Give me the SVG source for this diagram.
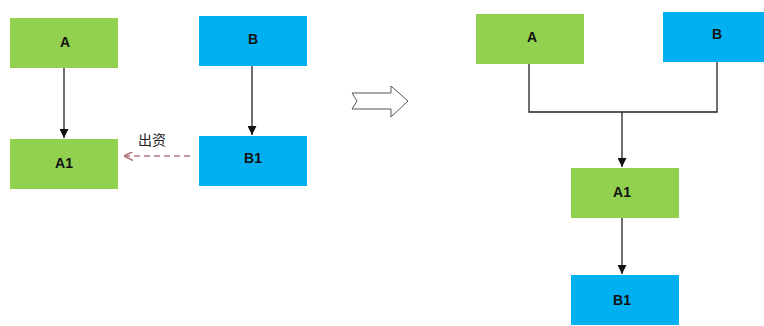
<svg xmlns="http://www.w3.org/2000/svg" width="764" height="326" viewBox="0 0 764 326">
<defs>
<style>
.g{fill:#92d050}
.b{fill:#00b0f0}
.t{font-family:"Liberation Sans",Arial,sans-serif;font-weight:bold;font-size:14px;fill:#111;text-anchor:middle;dominant-baseline:central}
.c{fill:none;stroke:#222;stroke-width:1.3}
</style>
<marker id="ah" viewBox="0 0 10 10" refX="10" refY="5" markerWidth="9" markerHeight="9" markerUnits="userSpaceOnUse" orient="auto"><path d="M0,0 L10,5 L0,10 z" fill="#111"/></marker>
<marker id="ahr" viewBox="0 0 10 10" refX="10" refY="5" markerWidth="9" markerHeight="9" markerUnits="userSpaceOnUse" orient="auto"><path d="M0,0 L10,5 L0,10" fill="none" stroke="#b07a80" stroke-width="1.8"/></marker>
</defs>
<rect width="764" height="326" fill="#fff"/>
<g id="connectors">
<line class="c" x1="64" y1="68" x2="64" y2="138" marker-end="url(#ah)"/>
<line class="c" x1="252" y1="66" x2="252" y2="135" marker-end="url(#ah)"/>
<line x1="190" y1="156" x2="124" y2="156" stroke="#b07a80" stroke-width="1.4" stroke-dasharray="6,4" marker-end="url(#ahr)"/>
<polyline class="c" points="529,64 529,112 717,112 717,62" stroke="#444"/>
<line class="c" x1="622" y1="112" x2="622" y2="167" marker-end="url(#ah)"/>
<line class="c" x1="622" y1="218" x2="622" y2="274" marker-end="url(#ah)"/>
<text x="152" y="139" font-family="'Noto Sans CJK SC',sans-serif" font-size="14" fill="#222" text-anchor="middle" dominant-baseline="central">出资</text>
</g>
<g id="transform-arrow">
<polygon points="352,93 391,93 391,86 408,101 391,117 391,109 352,109 357,101" fill="#fff" stroke="#555" stroke-width="1"/>
</g>
<g id="A-left"><rect class="g" x="10" y="18" width="108" height="50"/><text class="t" x="65" y="42">A</text></g>
<g id="B-left"><rect class="b" x="199" y="16" width="108" height="50"/><text class="t" x="253" y="39">B</text></g>
<g id="A1-left"><rect class="g" x="10" y="139" width="108" height="50"/><text class="t" x="64" y="163">A1</text></g>
<g id="B1-left"><rect class="b" x="199" y="136" width="108" height="50"/><text class="t" x="253" y="158">B1</text></g>
<g id="A-right"><rect class="g" x="476" y="14" width="108" height="50"/><text class="t" x="532" y="37">A</text></g>
<g id="B-right"><rect class="b" x="663" y="12" width="108" height="50"/><text class="t" x="717" y="34">B</text></g>
<g id="A1-right"><rect class="g" x="571" y="168" width="108" height="50"/><text class="t" x="622" y="192">A1</text></g>
<g id="B1-right"><rect class="b" x="571" y="275" width="108" height="50"/><text class="t" x="622" y="300">B1</text></g>
</svg>
